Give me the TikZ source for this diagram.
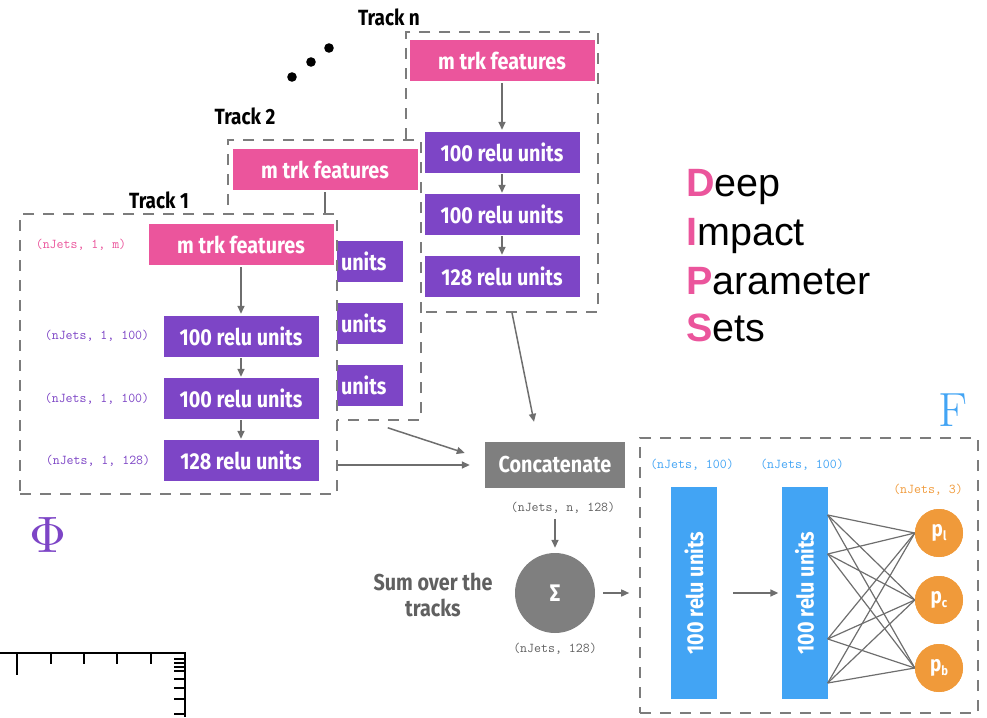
\documentclass[tikz,border=0pt]{standalone}
\usepackage{fontspec}
\newfontfamily\boxfont{Fira Sans}[FakeStretch=0.86]
\newfontfamily\dipsfont{Liberation Sans}
\usetikzlibrary{arrows.meta,calc}

\definecolor{pinkc}{HTML}{EB559C}
\definecolor{purplec}{HTML}{7D45C6}
\definecolor{boxgray}{HTML}{7F7F7F}
\definecolor{dashgray}{HTML}{7C7C7C}
\definecolor{arrgray}{HTML}{6E6E6E}
\definecolor{bluec}{HTML}{42A4F4}
\definecolor{orangec}{HTML}{F09A3A}
\definecolor{labgray}{HTML}{606060}

\newcommand\lowsub[1]{\raisebox{-0.35ex}{\fontsize{13}{13}\selectfont #1}}

\tikzset{
  every node/.style={inner sep=0pt},
  trackbox/.style={draw=dashgray, dash pattern=on 11pt off 9pt, line width=1.6pt, fill=white},
  boxtext/.style={text=white, font=\boxfont\bfseries\fontsize{23}{23}\selectfont},
  featbox/.style={boxtext, fill=pinkc, minimum width=185pt, minimum height=41pt},
  relubox/.style={boxtext, fill=purplec, minimum width=155pt, minimum height=41pt},
  % a layer box whose left part is hidden behind the front track: only the tail of its text shows
  relutail/.style={relubox, text width=123pt, inner xsep=16pt, align=right},
  shapelab/.style={font=\ttfamily\fontsize{13.5}{13.5}\selectfont},
  tracklab/.style={font=\boxfont\bfseries\fontsize{22}{22}\selectfont},
  arr/.style={draw=arrgray, line width=1.5pt, -{Triangle[length=8pt,width=7pt]}},
  conn/.style={draw=arrgray, line width=1.2pt},
  bar/.style={boxtext, fill=bluec, minimum width=46pt, minimum height=212pt},
  outnode/.style={circle, fill=orangec, text=white, minimum size=48pt,
    font=\boxfont\bfseries\fontsize{22}{22}\selectfont},
  dips/.style={font=\dipsfont\fontsize{39.5}{39.5}\selectfont, anchor=base west},
}

\begin{document}
\begin{tikzpicture}[x=1pt,y=-1pt]
\useasboundingbox (0,0) rectangle (987,717);

% ---------- Track n (drawn first, furthest back)
\node[trackbox, minimum width=192pt, minimum height=280pt] (tn) at (502,172) {};
\begin{scope}[shift={(261,-184)}]
  \node[featbox] (fn) at (241,244.5) {m trk features};
  \node[relubox] (an1) at (241,336.5) {100 relu units};
  \node[relubox] (an2) at (241,398.5) {100 relu units};
  \node[relubox] (an3) at (241,460.5) {128 relu units};
\end{scope}
\draw[arr, shorten <=2pt, shorten >=2pt] (fn) -- (an1);
\draw[arr, shorten <=1pt, shorten >=1pt] (an1) -- (an2);
\draw[arr, shorten <=1pt, shorten >=1pt] (an2) -- (an3);
\node[tracklab] (ltn) at (389,17) {Track n};

% ---------- Track 2
\node[trackbox, minimum width=193pt, minimum height=280pt] (t2) at (324.5,280) {};
\begin{scope}[shift={(84,-75)}]
  \node[featbox] (f2) at (241,244.5) {m trk features};
  \node[relutail] (a21) at (241,336.5) {units};
  \node[relutail] (a22) at (241,398.5) {units};
  \node[relutail] (a23) at (241,460.5) {units};
\end{scope}
\draw[arr, shorten <=2pt, shorten >=2pt] (f2) -- (a21);
\node[tracklab] (lt2) at (245,116) {Track 2};

% ---------- Track 1 (front)
\node[trackbox, minimum width=317pt, minimum height=280pt] (t1) at (178.5,354) {};
\node[featbox] (f1) at (241,244.5) {m trk features};
\node[relubox] (a11) at (241,336.5) {100 relu units};
\node[relubox] (a12) at (241,398.5) {100 relu units};
\node[relubox] (a13) at (241,460.5) {128 relu units};
\draw[arr, shorten <=2pt, shorten >=2pt] (f1) -- (a11);
\draw[arr, shorten <=1pt, shorten >=1pt] (a11) -- (a12);
\draw[arr, shorten <=1pt, shorten >=1pt] (a12) -- (a13);
\node[tracklab] (lt1) at (159,200) {Track 1};

\node[shapelab, text=pinkc] (s10) at (81,245) {(nJets, 1, m)};
\node[shapelab, text=purplec] (s11) at (97,336) {(nJets, 1, 100)};
\node[shapelab, text=purplec] (s12) at (97,399) {(nJets, 1, 100)};
\node[shapelab, text=purplec] (s13) at (98,461) {(nJets, 1, 128)};

% dots between Track 2 and Track n
\fill (292,77) circle (4.8pt);
\fill (311,62) circle (4.8pt);
\fill (329,48) circle (4.8pt);

% ---------- Concatenate and sum
\node[boxtext, fill=boxgray, minimum width=140pt, minimum height=46pt] (cc) at (555,465) {Concatenate};
\draw[arr] ([xshift=10pt]tn.south) -- ([xshift=-21pt,yshift=20pt]cc.north);
\draw[arr] ([xshift=-34pt,yshift=-7pt]t2.south east) -- ([xshift=-20pt,yshift=12pt]cc.west);
\draw[arr] (t1.east |- cc.west) -- ([xshift=-15pt]cc.west);

\node[shapelab, text=labgray] (lc) at (563,508) {(nJets, n, 128)};
\node[circle, fill=boxgray, text=white, minimum size=80pt,
      font=\boxfont\bfseries\fontsize{24}{24}\selectfont] (sg) at (555,593) {Σ};
\draw[arr, shorten <=5pt, shorten >=5pt] (lc.south -| sg) -- (sg.north);
\node[font=\boxfont\bfseries\fontsize{23}{26}\selectfont, text=labgray, align=center]
  (sumlab) at (433,595) {Sum over the\\tracks};
\node[shapelab, text=labgray] (ls) at (555,649) {(nJets, 128)};

% ---------- F network
\node[draw=dashgray, dash pattern=on 11pt off 9pt, line width=1.6pt,
      minimum width=338pt, minimum height=275pt] (fb) at (809,575.5) {};
\draw[arr, shorten <=8pt, shorten >=10pt] (sg.east) -- (fb.west |- sg.east);

\node[bar] (b1) at (694,593) {\rotatebox{90}{100 relu units}};
\node[bar] (b2) at (804.5,593) {\rotatebox{90}{100 relu units}};
\draw[arr, shorten <=16pt, shorten >=3pt] (b1.east) -- (b2.west);
\node[shapelab, text=bluec] (lb1) at (692,465) {(nJets, 100)};
\node[shapelab, text=bluec] (lb2) at (802,465) {(nJets, 100)};

\node[outnode] (o1) at (939,533) {p\lowsub{l}};
\node[outnode] (o2) at (939,600) {p\lowsub{c}};
\node[outnode] (o3) at (939,668) {p\lowsub{b}};
\node[shapelab, text=orangec] (lo) at (928,490) {(nJets, 3)};

\coordinate (e1) at ([yshift=78pt]b2.east);
\coordinate (e2) at ([yshift=39pt]b2.east);
\coordinate (e3) at ([yshift=-46pt]b2.east);
\coordinate (e4) at ([yshift=-90pt]b2.east);
\foreach \s in {e1,e2,e3,e4}{
  \foreach \t in {o1,o2,o3}{
    \draw[conn] (\s) -- (\t.west);
  }
}
% circles again, over the line ends
\node[outnode] at (o1) {p\lowsub{l}};
\node[outnode] at (o2) {p\lowsub{c}};
\node[outnode] at (o3) {p\lowsub{b}};

% ---------- network letters
\node[text=bluec, font=\fontsize{48}{48}\selectfont] (flab) at (953,410) {F};
\node[text=purplec] (phi) at (48,535) {\resizebox{!}{35pt}{$\Phi$}};

% ---------- acronym
\node[dips] (d1) at (686,196) {\textcolor{pinkc}{\bfseries D}eep};
\node[dips] (d2) at (686,245) {\textcolor{pinkc}{\bfseries I}mpact};
\node[dips] (d3) at (686,294) {\textcolor{pinkc}{\bfseries P}arameter};
\node[dips] (d4) at (686,341) {\textcolor{pinkc}{\bfseries S}ets};

% ---------- ruler corner
\draw[line width=1.5pt] (0,653) -- (185,653) -- (185,717);
\draw[line width=1.5pt] (17,653) -- (17,675);
\foreach \x in {51,84,117,151} \draw[line width=1.5pt] (\x,653) -- (\x,664);
\foreach \y in {659,663,667,671,679,688,699,714} \draw[line width=1.5pt] (174,\y) -- (185,\y);
\end{tikzpicture}
\end{document}
